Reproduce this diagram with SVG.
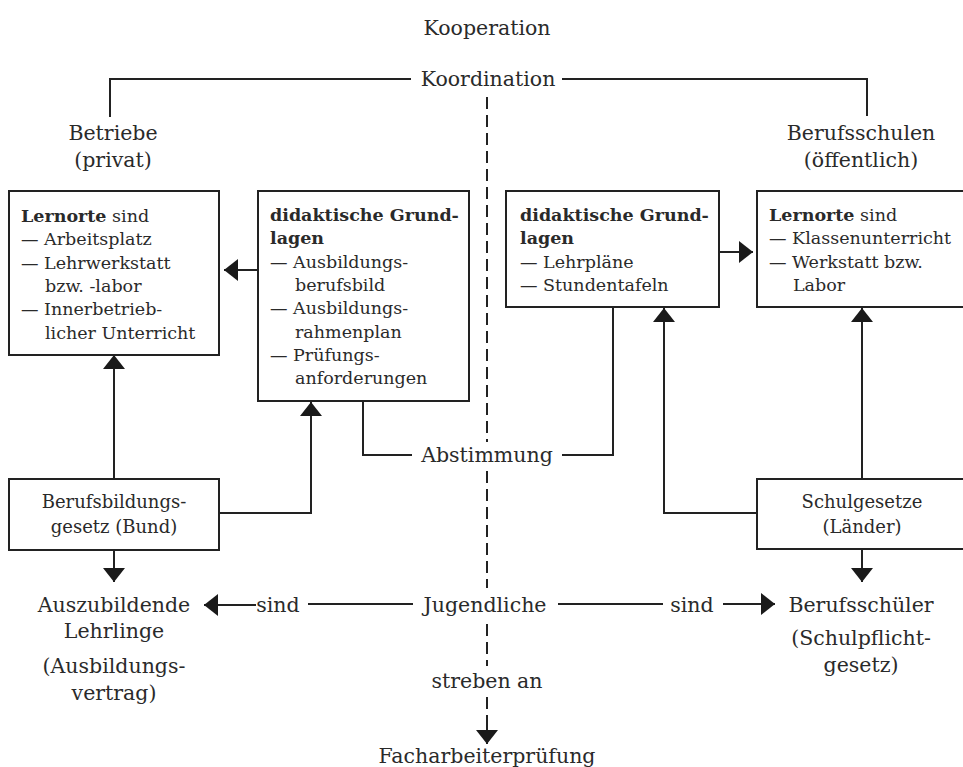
<svg xmlns="http://www.w3.org/2000/svg" width="963" height="767" viewBox="0 0 963 767">
<style>
text{font-family:"DejaVu Serif","Liberation Serif",serif;font-size:17.5px;fill:#2a2a2a}
.b{font-weight:bold}
.c{text-anchor:middle}
.lbl{font-size:20.5px}
.law{font-size:18px}
.box{fill:#fff;stroke:#222;stroke-width:2}
.ln{fill:none;stroke:#222;stroke-width:2}
.dash{fill:none;stroke:#222;stroke-width:2;stroke-dasharray:12 6}
</style>
<defs>
<marker id="ah" viewBox="0 0 14 22" refX="14" refY="11" markerWidth="14" markerHeight="22" markerUnits="userSpaceOnUse" orient="auto">
<path d="M0,0 L14,11 L0,22 Z" fill="#1a1a1a"/>
</marker>
</defs>
<g id="connectors">
<path class="ln" d="M110,117 V79 H411"/>
<path class="ln" d="M562,79 H867 V116"/>
<path class="dash" d="M487,97 V442"/>
<path class="dash" d="M487,471 V588"/>
<path class="dash" d="M487,624 V666"/>
<path class="dash" d="M487,697 V722"/>
<path class="ln" d="M487,722 V744" marker-end="url(#ah)"/>
<path class="ln" d="M258,270 H224" marker-end="url(#ah)"/>
<path class="ln" d="M719,252 H753" marker-end="url(#ah)"/>
<path class="ln" d="M114,479 V355" marker-end="url(#ah)"/>
<path class="ln" d="M219,513 H311 V402" marker-end="url(#ah)"/>
<path class="ln" d="M363,401 V455 H412"/>
<path class="ln" d="M562,455 H613 V307"/>
<path class="ln" d="M757,513 H664 V308" marker-end="url(#ah)"/>
<path class="ln" d="M862,479 V308" marker-end="url(#ah)"/>
<path class="ln" d="M114,550 V582" marker-end="url(#ah)"/>
<path class="ln" d="M862,549 V582" marker-end="url(#ah)"/>
<path class="ln" d="M256,605 H204" marker-end="url(#ah)"/>
<path class="ln" d="M308,604 H413"/>
<path class="ln" d="M558,604 H663"/>
<path class="ln" d="M723,604 H775" marker-end="url(#ah)"/>
</g>
<g id="kooperation"><text class="c lbl" x="487" y="35">Kooperation</text></g>
<g id="koordination"><text class="c lbl" x="488" y="86">Koordination</text></g>
<g id="betriebe"><text class="c lbl" x="113" y="140">Betriebe</text><text class="c lbl" x="113" y="167">(privat)</text></g>
<g id="berufsschulen"><text class="c lbl" x="861" y="140">Berufsschulen</text><text class="c lbl" x="861" y="167">(öffentlich)</text></g>
<g id="lernorte-betrieb">
<rect class="box" x="9" y="191" width="210" height="164"/>
<text x="21" y="222"><tspan class="b">Lernorte</tspan> sind</text>
<text x="21" y="245">— Arbeitsplatz</text>
<text x="21" y="269">— Lehrwerkstatt</text>
<text x="45" y="292">bzw. -labor</text>
<text x="21" y="315">— Innerbetrieb-</text>
<text x="45" y="339">licher Unterricht</text>
</g>
<g id="didaktik-betrieb">
<rect class="box" x="258" y="191" width="211" height="210"/>
<text class="b" x="270" y="221">didaktische Grund-</text>
<text class="b" x="270" y="244">lagen</text>
<text x="270" y="268">— Ausbildungs-</text>
<text x="295" y="291">berufsbild</text>
<text x="270" y="314">— Ausbildungs-</text>
<text x="295" y="338">rahmenplan</text>
<text x="270" y="361">— Prüfungs-</text>
<text x="295" y="384">anforderungen</text>
</g>
<g id="didaktik-schule">
<rect class="box" x="506" y="191" width="213" height="116"/>
<text class="b" x="520" y="221">didaktische Grund-</text>
<text class="b" x="520" y="244">lagen</text>
<text x="520" y="268">— Lehrpläne</text>
<text x="520" y="291">— Stundentafeln</text>
</g>
<g id="lernorte-schule">
<rect class="box" x="757" y="191" width="210" height="116"/>
<text x="769" y="221"><tspan class="b">Lernorte</tspan> sind</text>
<text x="769" y="244">— Klassenunterricht</text>
<text x="769" y="268">— Werkstatt bzw.</text>
<text x="793" y="291">Labor</text>
</g>
<g id="bbig">
<rect class="box" x="9" y="479" width="210" height="71"/>
<text class="c law" x="114" y="508">Berufsbildungs-</text>
<text class="c law" x="114" y="533">gesetz (Bund)</text>
</g>
<g id="schulgesetze">
<rect class="box" x="757" y="479" width="210" height="70"/>
<text class="c law" x="862" y="508">Schulgesetze</text>
<text class="c law" x="862" y="533">(Länder)</text>
</g>
<g id="abstimmung"><text class="c lbl" x="487" y="462">Abstimmung</text></g>
<g id="jugendliche"><text class="c lbl" x="485" y="612">Jugendliche</text></g>
<g id="sind-links"><text class="c lbl" x="278" y="612">sind</text></g>
<g id="sind-rechts"><text class="c lbl" x="692" y="612">sind</text></g>
<g id="auszubildende">
<text class="c lbl" x="114" y="612">Auszubildende</text>
<text class="c lbl" x="114" y="638">Lehrlinge</text>
<text class="c lbl" x="114" y="673">(Ausbildungs-</text>
<text class="c lbl" x="114" y="700">vertrag)</text>
</g>
<g id="berufsschueler">
<text class="c lbl" x="861" y="612">Berufsschüler</text>
<text class="c lbl" x="861" y="645">(Schulpflicht-</text>
<text class="c lbl" x="861" y="672">gesetz)</text>
</g>
<g id="streben"><text class="c lbl" x="487" y="688">streben an</text></g>
<g id="facharbeiter"><text class="c lbl" x="487" y="763">Facharbeiterprüfung</text></g>
</svg>
